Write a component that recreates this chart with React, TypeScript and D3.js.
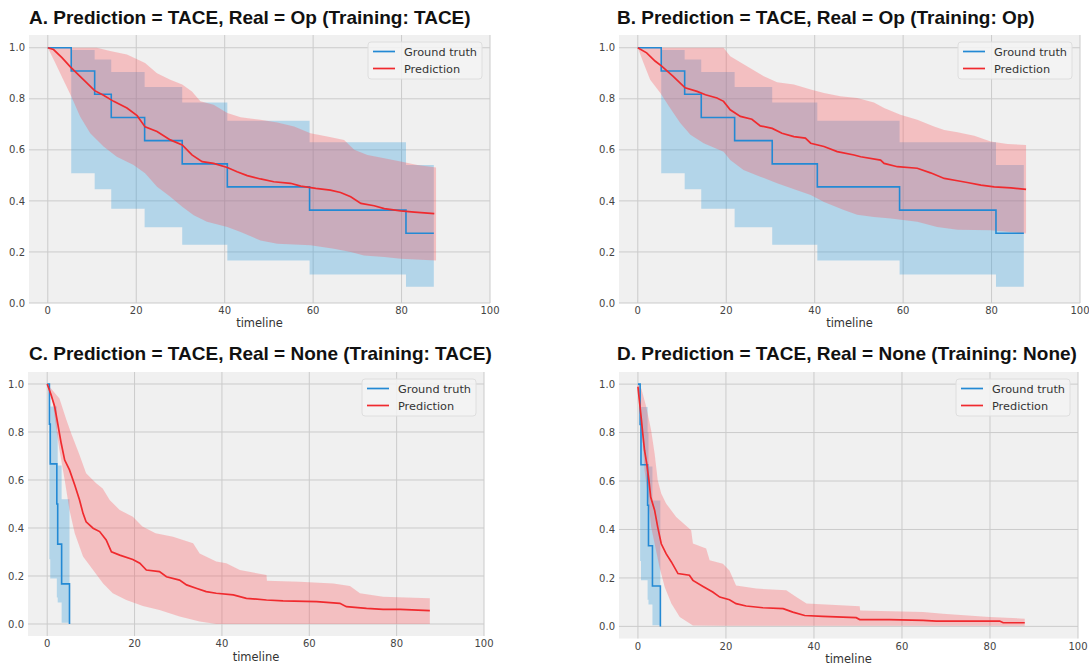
import { useEffect, useRef } from 'react';
import * as d3 from 'd3';

const W = 1089;
const H = 668;

const titles = [
    'A. Prediction = TACE, Real = Op (Training: TACE)',
    'B. Prediction = TACE, Real = Op (Training: Op)',
    'C. Prediction = TACE, Real = None (Training: TACE)',
    'D. Prediction = TACE, Real = None (Training: None)'
];
const legendLabels = ['Ground truth', 'Prediction'];
const xLabel = 'timeline';
const xTicks = [0, 20, 40, 60, 80, 100];
const yTicks = [0, 0.2, 0.4, 0.6, 0.8, 1.0];

// ground truth, Real = Op (A, B)
const gtOpTime = [0, 5.3, 10.6, 14.35, 21.9, 30.4, 40.6, 59.2, 81.0, 87.3];
const gtOpSurv = [1, 0.909, 0.818, 0.727, 0.636, 0.545, 0.455, 0.364, 0.273, 0.273];
const gtOpLower = [1, 0.508, 0.446, 0.369, 0.297, 0.228, 0.167, 0.112, 0.064, 0.064];
const gtOpUpper = [1, 0.991, 0.954, 0.905, 0.846, 0.786, 0.714, 0.63, 0.541, 0.541];

// ground truth, Real = None (C, D)
const gtNoneTime = [0, 0.5, 0.7, 2.2, 2.4, 3.3, 5.1];
const gtNoneSurv = [1, 0.833, 0.667, 0.5, 0.333, 0.167, 0];
const gtNoneLower = [1, 0.27, 0.19, 0.11, 0.09, 0.005, 0];
const gtNoneUpper = [1, 0.97, 0.906, 0.8, 0.66, 0.52, 0];

// A prediction
const predATime = [0, 1.3, 3.2, 5.1, 7.3, 10.6, 12.6, 14.9, 17.9, 20.2, 22, 24.7, 27.7, 30.4, 32.6, 34.9, 37.5, 40.6, 42.8, 45.1, 48.1, 51.1, 54.9, 57.2, 60.6, 63.9, 66.2, 68.5, 70.8, 73.8, 76.1, 79.8, 82.9, 87.4];
const predASurv = [1, 0.993, 0.961, 0.925, 0.888, 0.832, 0.814, 0.79, 0.764, 0.734, 0.69, 0.672, 0.639, 0.619, 0.58, 0.554, 0.547, 0.531, 0.514, 0.499, 0.486, 0.475, 0.469, 0.458, 0.449, 0.442, 0.433, 0.416, 0.39, 0.381, 0.37, 0.361, 0.356, 0.35];
const upperATime = [0, 11.1, 14.1, 17.9, 22, 24.7, 27.7, 30.4, 32.6, 34.5, 37.5, 40.6, 43.6, 48.1, 51.9, 55.7, 59.4, 63.2, 67, 69.3, 72.3, 76.1, 79.8, 83.6, 87.8];
const upperA = [1, 1, 0.987, 0.974, 0.94, 0.9, 0.875, 0.856, 0.829, 0.79, 0.777, 0.744, 0.728, 0.718, 0.707, 0.692, 0.665, 0.652, 0.639, 0.6, 0.58, 0.567, 0.554, 0.541, 0.531];
const lowerATime = [0, 1.7, 3.5, 5.3, 7.3, 9.6, 12.6, 15.6, 19.4, 22, 24.7, 27.7, 30.4, 33, 36, 40.6, 43.6, 48.1, 51.9, 59.4, 64.7, 68.5, 71.5, 76.1, 79.8, 87.8];
const lowerA = [1, 0.94, 0.875, 0.81, 0.731, 0.665, 0.613, 0.573, 0.541, 0.508, 0.455, 0.416, 0.377, 0.344, 0.318, 0.298, 0.278, 0.245, 0.232, 0.226, 0.213, 0.2, 0.186, 0.18, 0.173, 0.167];

// B prediction
const predBTime = [0, 2, 3.9, 5.4, 8, 10.7, 13.4, 15.3, 17.9, 19.4, 20.9, 23.2, 25.8, 27.7, 30.4, 32.6, 35.3, 37.9, 39.1, 42.1, 45.1, 48.9, 50.4, 54.9, 55.7, 58.7, 63.2, 66.2, 69.3, 72.3, 74.5, 77.6, 80.6, 84.4, 87.8];
const predBSurv = [1, 0.98, 0.948, 0.928, 0.888, 0.843, 0.829, 0.816, 0.803, 0.79, 0.757, 0.731, 0.72, 0.694, 0.684, 0.665, 0.652, 0.646, 0.626, 0.613, 0.593, 0.58, 0.573, 0.56, 0.547, 0.534, 0.528, 0.51, 0.488, 0.479, 0.472, 0.462, 0.455, 0.451, 0.445];
const upperBTime = [0, 19.4, 20.9, 24.7, 28.5, 31.5, 35.3, 39.1, 42.1, 45.8, 49.6, 53.4, 55.7, 59.4, 63.2, 67, 69.3, 72.3, 76.1, 79.8, 83.6, 87.8];
const upperB = [1, 1, 0.967, 0.928, 0.888, 0.865, 0.856, 0.836, 0.823, 0.81, 0.803, 0.786, 0.764, 0.738, 0.718, 0.692, 0.678, 0.669, 0.655, 0.633, 0.623, 0.619];
const lowerBTime = [0, 1.3, 2.8, 5.1, 7.3, 9.6, 11.9, 14.9, 19.4, 20.9, 23.9, 27.7, 31.5, 36, 39.1, 42.1, 46.6, 49.6, 53.4, 57.2, 63.2, 67.7, 72.3, 79.8, 87.8];
const lowerB = [1, 0.94, 0.875, 0.823, 0.764, 0.705, 0.659, 0.626, 0.593, 0.56, 0.521, 0.495, 0.469, 0.442, 0.423, 0.396, 0.364, 0.346, 0.337, 0.331, 0.318, 0.298, 0.287, 0.285, 0.272];

// C prediction
const predCTime = [0, 0.9, 1.7, 2.4, 3.2, 4, 5.1, 6.3, 7.4, 8.2, 8.9, 10.5, 12, 13.5, 14.7, 16.6, 19.6, 21.2, 22.7, 25.7, 27.3, 30.3, 31.9, 34.1, 36.4, 38.7, 42.6, 45.6, 50.2, 54, 61.7, 67, 68.5, 73.1, 76.9, 80.8, 87.6];
const predCSurv = [1, 0.954, 0.906, 0.836, 0.753, 0.683, 0.642, 0.579, 0.517, 0.461, 0.426, 0.399, 0.385, 0.35, 0.301, 0.287, 0.269, 0.253, 0.225, 0.218, 0.197, 0.183, 0.163, 0.149, 0.135, 0.128, 0.121, 0.107, 0.1, 0.096, 0.093, 0.086, 0.072, 0.065, 0.061, 0.061, 0.056];
const upperCTime = [0, 1.3, 2.8, 4.4, 5.5, 7.4, 8.9, 11.2, 12.7, 14.3, 16.6, 19.6, 21.8, 24.8, 28.8, 33.4, 34.9, 38.7, 41, 44.1, 50.2, 50.3, 57.8, 65.5, 69.3, 71.6, 76.9, 87.6];
const upperC = [1, 0.972, 0.94, 0.85, 0.794, 0.704, 0.628, 0.586, 0.565, 0.517, 0.475, 0.447, 0.406, 0.378, 0.364, 0.336, 0.294, 0.26, 0.253, 0.225, 0.204, 0.18, 0.176, 0.169, 0.158, 0.128, 0.114, 0.107];
const lowerCTime = [0, 0.5, 1.3, 2.1, 2.8, 4, 5.1, 6.3, 8.2, 10.5, 12.8, 15, 18.1, 21.9, 25.7, 30.3, 34.9, 38.7, 87.6];
const lowerC = [1, 0.975, 0.92, 0.808, 0.725, 0.6, 0.475, 0.378, 0.281, 0.225, 0.169, 0.128, 0.1, 0.075, 0.058, 0.031, 0.01, 0, 0];

// D prediction
const predDTime = [0, 0.4, 0.8, 1.1, 1.5, 2, 2.5, 2.9, 3.8, 4.5, 5.3, 6.4, 7.6, 9.1, 11.7, 12.5, 14.8, 17, 18.6, 20.8, 22.3, 24.6, 28.4, 33, 35.2, 37.9, 42, 49.6, 50.4, 57.2, 64.8, 67.8, 82.2, 83, 87.9];
const predDSurv = [0.989, 0.92, 0.851, 0.796, 0.727, 0.672, 0.603, 0.534, 0.479, 0.41, 0.341, 0.3, 0.266, 0.218, 0.211, 0.19, 0.165, 0.142, 0.121, 0.11, 0.094, 0.084, 0.077, 0.073, 0.059, 0.045, 0.041, 0.036, 0.028, 0.028, 0.025, 0.022, 0.022, 0.015, 0.015];
const upperDTime = [0, 0.8, 1.9, 3, 3.8, 4.5, 5.3, 6.4, 8.7, 12.1, 12.5, 15.5, 16.3, 19.3, 20.8, 22.3, 26.9, 33.7, 36, 38.3, 50.4, 50.5, 64.8, 69.3, 79.9, 87.9];
const upperD = [1, 0.98, 0.906, 0.81, 0.713, 0.603, 0.548, 0.507, 0.452, 0.397, 0.342, 0.321, 0.273, 0.259, 0.231, 0.169, 0.156, 0.149, 0.121, 0.094, 0.083, 0.066, 0.059, 0.052, 0.039, 0.032];
const lowerDTime = [0, 0.4, 1, 1.5, 2.3, 3, 3.8, 4.9, 6.1, 7.6, 9.5, 12.5, 20, 50, 87.9];
const lowerD = [0.99, 0.893, 0.782, 0.645, 0.534, 0.41, 0.341, 0.245, 0.162, 0.094, 0.039, 0.004, 0.003, 0.003, 0.003];

const blue = '#2389d4';
const red = '#f02a2e';
const blueFill = '#2899dc';
const redFill = '#fd4f55';

type Pt = [number, number];
const zip = (a: number[], b: number[]): Pt[] => a.map((t, i) => [t, b[i]]);

const panels = [
    {
        title: titles[0], tx: 29, ty: 24, box: [29, 35, 490, 303], xDom: [-4.25, 100], yDom: [0, 1.05], lab: 327,
        gt: [gtOpTime, gtOpSurv, gtOpLower, gtOpUpper],
        pred: zip(predATime, predASurv), up: zip(upperATime, upperA), lo: zip(lowerATime, lowerA)
    },
    {
        title: titles[1], tx: 617, ty: 24, box: [619, 35, 1080, 303], xDom: [-4.25, 100], yDom: [0, 1.05], lab: 327,
        gt: [gtOpTime, gtOpSurv, gtOpLower, gtOpUpper],
        pred: zip(predBTime, predBSurv), up: zip(upperBTime, upperB), lo: zip(lowerBTime, lowerB)
    },
    {
        title: titles[2], tx: 29, ty: 360, box: [28, 372, 484, 636], xDom: [-4.4, 100], yDom: [-0.05, 1.05], lab: 661,
        gt: [gtNoneTime, gtNoneSurv, gtNoneLower, gtNoneUpper],
        pred: zip(predCTime, predCSurv), up: zip(upperCTime, upperC), lo: zip(lowerCTime, lowerC)
    },
    {
        title: titles[3], tx: 617, ty: 360, box: [619, 372, 1078, 638.5], xDom: [-4.3, 100], yDom: [-0.05, 1.05], lab: 663,
        gt: [gtNoneTime, gtNoneSurv, gtNoneLower, gtNoneUpper],
        pred: zip(predDTime, predDSurv), up: zip(upperDTime, upperD), lo: zip(lowerDTime, lowerD)
    }
];

export default function App() {
    const ref = useRef<SVGSVGElement>(null);

    useEffect(() => {
        document.body.style.margin = '0';
        const svg = d3.select(ref.current);
        svg.selectAll('*').remove();

        panels.forEach((p, pi) => {
            const [l, t, r, b] = p.box;
            const x = d3.scaleLinear().domain(p.xDom).range([l, r]);
            const y = d3.scaleLinear().domain(p.yDom).range([b, t]);
            const g = svg.append('g');

            g.append('text')
                .attr('x', p.tx)
                .attr('y', p.ty)
                .attr('font-family', '"Liberation Sans", Arial, sans-serif')
                .attr('font-weight', 'bold')
                .attr('font-size', 19)
                .attr('fill', '#111')
                .text(p.title);

            g.append('rect').attr('x', l).attr('y', t).attr('width', r - l).attr('height', b - t).attr('fill', '#f0f0f0');

            const clipId = `clip${pi}`;
            svg.append('clipPath').attr('id', clipId).append('rect').attr('x', l).attr('y', t).attr('width', r - l).attr('height', b - t);

            // grid
            g.selectAll(null)
                .data(xTicks)
                .join('line')
                .attr('x1', (d) => x(d))
                .attr('x2', (d) => x(d))
                .attr('y1', t)
                .attr('y2', b)
                .attr('stroke', '#cbcbcb')
                .attr('stroke-width', 1);
            g.selectAll(null)
                .data(yTicks)
                .join('line')
                .attr('x1', l)
                .attr('x2', r)
                .attr('y1', (d) => y(d))
                .attr('y2', (d) => y(d))
                .attr('stroke', '#cbcbcb')
                .attr('stroke-width', 1);

            // tick labels
            g.selectAll(null)
                .data(xTicks)
                .join('text')
                .attr('x', (d) => x(d))
                .attr('y', b + 11)
                .attr('text-anchor', 'middle')
                .attr('font-family', '"DejaVu Sans", sans-serif')
                .attr('font-size', 10)
                .attr('fill', '#444')
                .text((d) => String(d));
            g.selectAll(null)
                .data(yTicks)
                .join('text')
                .attr('x', l - 4)
                .attr('y', (d) => y(d) + 3.6)
                .attr('text-anchor', 'end')
                .attr('font-family', '"DejaVu Sans", sans-serif')
                .attr('font-size', 10)
                .attr('fill', '#444')
                .text((d) => d.toFixed(1));

            g.append('text')
                .attr('x', (l + r) / 2)
                .attr('y', p.lab)
                .attr('text-anchor', 'middle')
                .attr('font-family', '"DejaVu Sans", sans-serif')
                .attr('font-size', 11.5)
                .attr('fill', '#333')
                .text(xLabel);

            const plot = g.append('g').attr('clip-path', `url(#${clipId})`);
            const [gtT, gtS, gtL, gtU] = p.gt;
            const idx = gtT.map((_, i) => i);

            const gtArea = d3
                .area<number>()
                .curve(d3.curveStepAfter)
                .x((i) => x(gtT[i]))
                .y0((i) => y(gtL[i]))
                .y1((i) => y(gtU[i]));
            plot.append('path').datum(idx).attr('d', gtArea).attr('fill', blueFill).attr('fill-opacity', 0.3);

            const ptLine = d3
                .line<Pt>()
                .x((d) => x(d[0]))
                .y((d) => y(d[1]));
            const band = [...p.up, ...p.lo.slice().reverse()];
            plot.append('path')
                .attr('d', ptLine(band) + 'Z')
                .attr('fill', redFill)
                .attr('fill-opacity', 0.3);

            const gtLine = d3
                .line<number>()
                .curve(d3.curveStepAfter)
                .x((i) => x(gtT[i]))
                .y((i) => y(gtS[i]));
            plot.append('path').datum(idx).attr('d', gtLine).attr('fill', 'none').attr('stroke', blue).attr('stroke-width', 1.6);

            plot.append('path').datum(p.pred).attr('d', ptLine).attr('fill', 'none').attr('stroke', red).attr('stroke-width', 1.7);

            // legend
            const lw = 114;
            const lh = 37;
            const lx = r - 8 - lw;
            const ly = t + 7;
            const leg = g.append('g');
            leg.append('rect')
                .attr('x', lx)
                .attr('y', ly)
                .attr('width', lw)
                .attr('height', lh)
                .attr('rx', 3)
                .attr('fill', '#f3f3f3')
                .attr('fill-opacity', 0.85)
                .attr('stroke', '#dedede');
            legendLabels.forEach((name, i) => {
                const yy = ly + 9.5 + i * 17;
                leg.append('line')
                    .attr('x1', lx + 5)
                    .attr('x2', lx + 27)
                    .attr('y1', yy)
                    .attr('y2', yy)
                    .attr('stroke', i === 0 ? blue : red)
                    .attr('stroke-width', 1.7);
                leg.append('text')
                    .attr('x', lx + 36)
                    .attr('y', yy + 4)
                    .attr('font-family', '"DejaVu Sans", sans-serif')
                    .attr('font-size', 11.3)
                    .attr('fill', '#333')
                    .text(name);
            });
        });
    }, []);

    return <svg ref={ref} width={W} height={H} style={{ display: 'block', background: '#fff' }} />;
}
